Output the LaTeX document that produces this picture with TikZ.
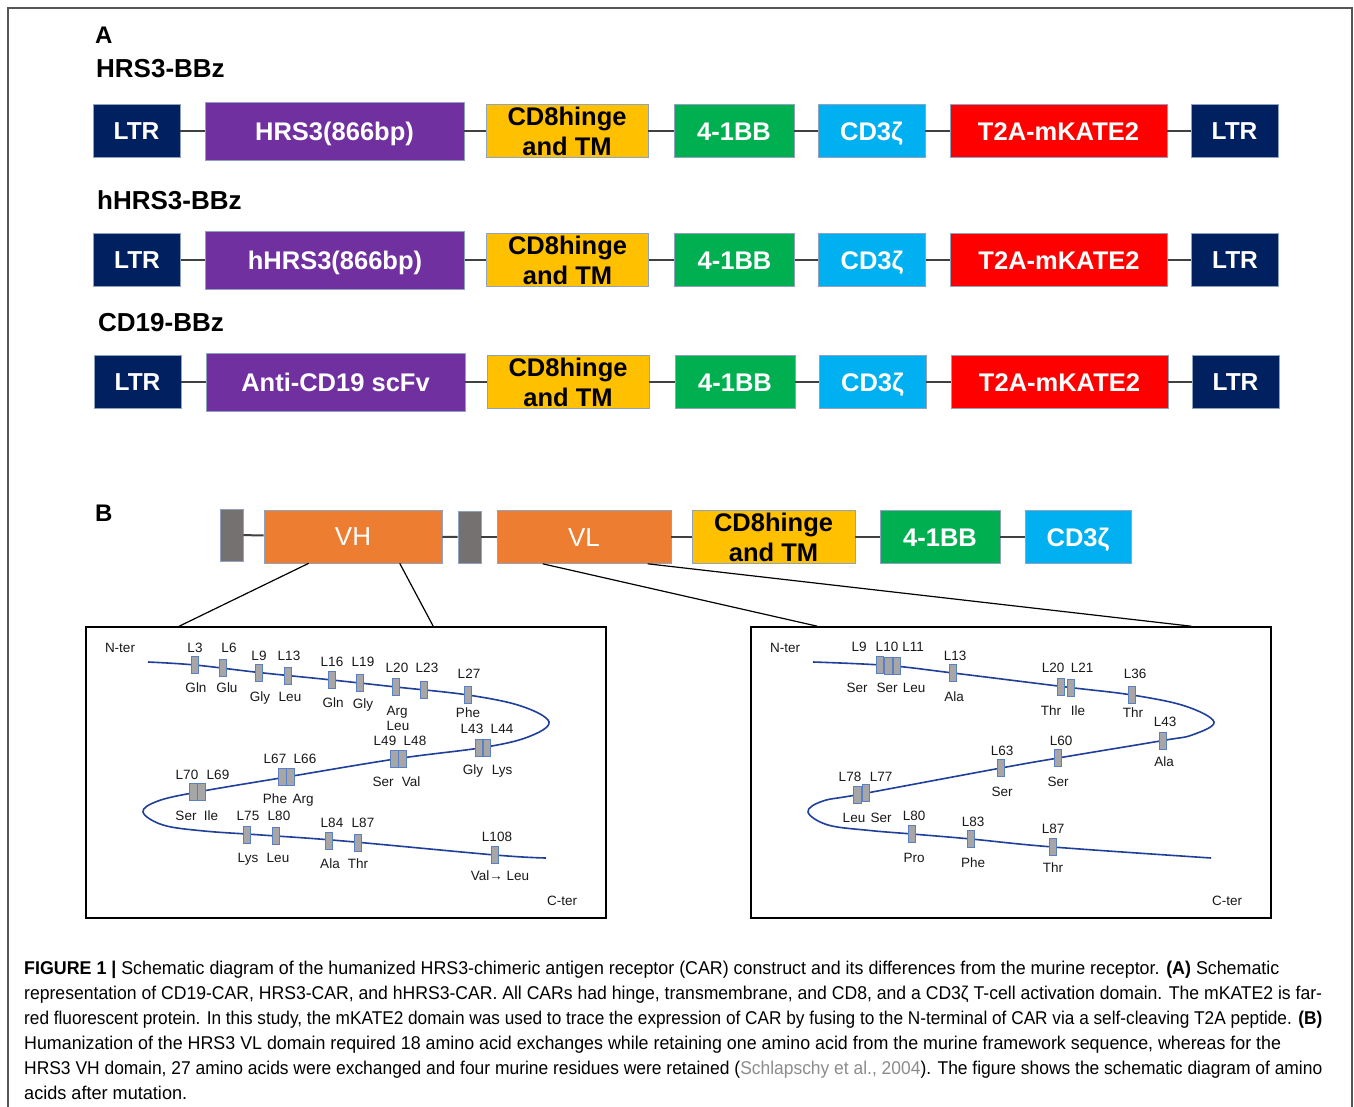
\documentclass[tikz,border=0pt]{standalone}
\usepackage{fontspec}
\usepackage{graphicx}
\setmainfont{Liberation Sans}
\usetikzlibrary{calc}
\definecolor{navy}{HTML}{002060}
\definecolor{cpurple}{HTML}{7030A0}
\definecolor{cyellow}{HTML}{FFC000}
\definecolor{cgreen}{HTML}{00B050}
\definecolor{ccyan}{HTML}{00B0F0}
\definecolor{cred}{HTML}{FF0000}
\definecolor{corange}{HTML}{ED7D31}
\definecolor{cgrayb}{HTML}{767171}
\definecolor{edgec}{HTML}{8FA3C0}
\definecolor{resfill}{HTML}{A6A6A6}
\definecolor{resedge}{HTML}{5B7FC4}
\definecolor{curvec}{HTML}{1F3F99}
\definecolor{citegray}{HTML}{8C8C8C}
\definecolor{framegray}{HTML}{555555}
\definecolor{linkc}{HTML}{404040}

\newcommand\cardrow[4]{%
 \node[ltrbox] (#1a) at (136.5+#3,#2) {LTR};
 \node[scfvbox] (#1b) at (334.5+#3,#2) {#4};
 \node[hingebox, minimum width=162pt] (#1c) at (567+#3,#2) {};
 \node[hingetext] (#1ct) at (567+#3,#2) {CD8hinge\\and TM};
 \node[blk, fill=cgreen, minimum width=120pt] (#1d) at (734+#3,#2) {4-1BB};
 \node[blk, fill=ccyan, minimum width=107pt] (#1e) at (871.5+#3,#2) {CD3ζ};
 \node[blk, fill=cred, minimum width=217pt] (#1f) at (1058.5+#3,#2) {T2A-mKATE2};
 \node[ltrbox] (#1g) at (1234.5+#3,#2) {LTR};
 \draw[linkline] (#1a) -- (#1b);
 \draw[linkline] (#1b) -- (#1c);
 \draw[linkline] (#1c) -- (#1d);
 \draw[linkline] (#1d) -- (#1e);
 \draw[linkline] (#1e) -- (#1f);
 \draw[linkline] (#1f) -- (#1g);
}
\newcommand\rb[3]{\node[res] (#1) at (#2,#3) {};}
\newcommand\tl[4]{\node[lab] (#1) at (#2,#3) {#4};}

\begin{document}
\begin{tikzpicture}[x=1pt,y=-1pt,
 blk/.style={rectangle, inner sep=0pt, draw=edgec, line width=0.6pt, minimum height=53pt, text=white,
   font=\fontsize{25.5}{30}\selectfont\bfseries, text height=18.3pt, text depth=0pt},
 ltrbox/.style={blk, fill=navy, minimum width=87pt, font=\fontsize{24.5}{28}\selectfont\bfseries, text height=17.5pt},
 scfvbox/.style={blk, fill=cpurple, minimum width=259pt, minimum height=58pt},
 hingebox/.style={blk, fill=cyellow},
 hingetext/.style={align=center, inner sep=0pt, text=black, font=\fontsize{25.5}{30}\selectfont\bfseries},
 gbox/.style={rectangle, inner sep=0pt, fill=cgrayb, draw=edgec, line width=0.6pt, minimum width=23pt, minimum height=52pt},
 vbox/.style={blk, fill=corange, font=\fontsize{26}{30}\selectfont, text height=18.6pt},
 linkline/.style={draw=linkc, line width=2pt},
 titletext/.style={anchor=west, inner sep=0pt, font=\fontsize{26}{30}\selectfont\bfseries, text height=18.6pt, text depth=0pt},
 paneltext/.style={anchor=west, inner sep=0pt, font=\fontsize{24}{28}\selectfont\bfseries, text height=17.2pt, text depth=0pt},
 panel/.style={rectangle, draw=black, line width=1.6pt, minimum width=520pt, minimum height=291pt, inner sep=0pt},
 zoomline/.style={draw=black, line width=1.2pt},
 res/.style={rectangle, inner sep=0pt, fill=resfill, draw=resedge, line width=0.7pt, minimum width=7.5pt, minimum height=17pt},
 lab/.style={inner sep=0pt, text=black!90, font=\fontsize{13.5}{14}\selectfont, text height=9.7pt, text depth=0pt},
 curveline/.style={draw=curvec, line width=1.6pt},
 capt/.style={anchor=base west, inner sep=0pt, font=\fontsize{18.5}{22}\selectfont, text=black}
]
\useasboundingbox (0,0) rectangle (1354,1107);
\fill[white] (0,0) rectangle (1354,1107);
\draw[framegray, line width=1.5pt] (8,1115) -- (8,8) -- (1352,8) -- (1352,1115);

% ---------------- Part A
\node[paneltext] (lA) at (95,35) {A};
\node[titletext] (t1) at (96,68) {HRS3-BBz};
\node[titletext] (t2) at (97,200) {hHRS3-BBz};
\node[titletext] (t3) at (98,322) {CD19-BBz};
\cardrow{ra}{131}{0}{HRS3(866bp)}
\cardrow{rb}{260}{0.5}{hHRS3(866bp)}
\cardrow{rc}{382}{1}{Anti-CD19 scFv}

% ---------------- Part B
\node[paneltext] (lB) at (95,513) {B};
\node[gbox] (g1) at (231.5,535) {};
\node[vbox, minimum width=178pt] (vh) at (353,536.5) {VH};
\node[gbox] (g2) at (469.5,537) {};
\node[vbox, minimum width=174pt] (vl) at (584,537) {VL};
\node[hingebox, minimum width=163pt] (bh) at (773.5,537) {};
\node[hingetext] (bht) at (773.5,537) {CD8hinge\\and TM};
\node[blk, fill=cgreen, minimum width=120pt] (bb) at (940,537) {4-1BB};
\node[blk, fill=ccyan, minimum width=106pt] (bz) at (1078,537) {CD3ζ};
\draw[linkline] (g1) -- (vh);
\draw[linkline] (vh) -- (g2);
\draw[linkline] (g2) -- (vl);
\draw[linkline] (vl) -- (bh);
\draw[linkline] (bh) -- (bb);
\draw[linkline] (bb) -- (bz);

\node[panel] (p1) at (346,772.5) {};
\node[panel] (p2) at (1011,772.5) {};
\draw[zoomline] ($(vh.south west)+(45,0)$) -- ($(p1.north west)+(94,0)$);
\draw[zoomline] ($(vh.south west)+(136,0)$) -- ($(p1.north west)+(348,0)$);
\draw[zoomline] ($(vl.south west)+(46,0)$) -- ($(p2.north west)+(67,0)$);
\draw[zoomline] ($(vl.south west)+(151,0)$) -- ($(p2.north west)+(441,0)$);

% ---------------- left panel (VH)
\draw[curveline] plot[smooth, tension=0.6] coordinates {(148,662) (195,665) (259,672.5) (332,680) (396,687) (468,695) (521,706) (549,722) (528,737) (483,747.5) (398.5,758.5) (286.5,777) (197.5,792) (158,801) (143,812) (163,825) (204,831) (261.5,835) (343.5,841) (495,855) (546,858)};
\rb{v3}{195}{665} \rb{v6}{223}{668} \rb{v9}{259}{672.5} \rb{v13}{288}{675.5}
\rb{v16}{332}{680} \rb{v19}{360}{683} \rb{v20}{396}{687} \rb{v23}{424}{690} \rb{v27}{468}{695}
\rb{v43}{479}{747.5} \rb{v44}{487}{747.5} \rb{v49}{394.5}{758.5} \rb{v48}{402.5}{758.5}
\rb{v67}{282.5}{777} \rb{v66}{290.5}{777} \rb{v70}{193.5}{792} \rb{v69}{201.5}{792}
\rb{v75}{247}{834.5} \rb{v80}{276}{836} \rb{v84}{329}{840.5} \rb{v87}{358}{842.5} \rb{v108}{495}{855}
\tl{vn}{120}{648}{N-ter} \tl{vc}{562}{901}{C-ter}
\tl{v3t}{195}{648}{L3} \tl{v6t}{229}{648}{L6} \tl{v9t}{259}{656}{L9} \tl{v13t}{289}{656}{L13}
\tl{v16t}{332}{662}{L16} \tl{v19t}{363}{662}{L19} \tl{v20t}{397}{668}{L20} \tl{v23t}{427}{668}{L23}
\tl{v27t}{469}{674}{L27} \tl{v43t}{472}{729}{L43} \tl{v44t}{502}{729}{L44}
\tl{v49t}{385}{741}{L49} \tl{v48t}{415}{741}{L48} \tl{v67t}{275}{759}{L67} \tl{v66t}{305}{759}{L66}
\tl{v70t}{187}{775}{L70} \tl{v69t}{218}{775}{L69} \tl{v75t}{248}{816}{L75} \tl{v80t}{279}{816}{L80}
\tl{v84t}{332}{823}{L84} \tl{v87t}{363}{823}{L87} \tl{v108t}{497}{837}{L108}
\tl{v3b}{196}{688}{Gln} \tl{v6b}{227}{688}{Glu} \tl{v9b}{260}{697}{Gly} \tl{v13b}{290}{697}{Leu}
\tl{v16b}{333}{703}{Gln} \tl{v19b}{363}{704}{Gly} \tl{v20b}{397}{711}{Arg} \tl{v23b}{398}{726}{Leu}
\tl{v27b}{468}{713}{Phe} \tl{v43b}{473}{770}{Gly} \tl{v44b}{502}{770}{Lys}
\tl{v49b}{383}{782}{Ser} \tl{v48b}{411}{782}{Val} \tl{v67b}{275}{799}{Phe} \tl{v66b}{303}{799}{Arg}
\tl{v70b}{186}{816}{Ser} \tl{v69b}{211}{816}{Ile} \tl{v75b}{248}{858}{Lys} \tl{v80b}{278}{858}{Leu}
\tl{v84b}{330}{864}{Ala} \tl{v87b}{358}{864}{Thr} \tl{v108b}{500}{876}{Val→ Leu}

% ---------------- right panel (VL)
\draw[curveline] plot[smooth, tension=0.6] coordinates {(813,662) (888,665.5) (953,673) (1066,687) (1132,695) (1185,706) (1214,722) (1192,735) (1163,740.5) (1058,758) (1001,768) (861.5,794) (823,801) (808,812) (828,825) (870,830.5) (912,834) (971,839) (1053,847) (1211,858)};
\rb{w9}{880}{665} \rb{w10}{888.5}{665.5} \rb{w11}{897}{666.3} \rb{w13}{953}{673}
\rb{w20}{1061}{686.4} \rb{w21}{1071}{687.6} \rb{w36}{1132}{695} \rb{w43}{1163}{740.5}
\rb{w60}{1058}{758} \rb{w63}{1001}{768} \rb{w78}{857.5}{794.5} \rb{w77}{866}{793}
\rb{w80}{912}{834} \rb{w83}{971}{839} \rb{w87}{1053}{847}
\tl{wn}{785}{648}{N-ter} \tl{wc}{1227}{901}{C-ter}
\tl{w9t}{859}{647}{L9} \tl{w10t}{887}{647}{L10} \tl{w11t}{913}{647}{L11} \tl{w13t}{955}{656}{L13}
\tl{w20t}{1053}{668}{L20} \tl{w21t}{1082}{668}{L21} \tl{w36t}{1135}{674}{L36} \tl{w43t}{1165}{722}{L43}
\tl{w60t}{1061}{741}{L60} \tl{w63t}{1002}{751}{L63} \tl{w78t}{850}{777}{L78} \tl{w77t}{881}{777}{L77}
\tl{w80t}{914}{816}{L80} \tl{w83t}{973}{822}{L83} \tl{w87t}{1053}{829}{L87}
\tl{w9b}{857}{688}{Ser} \tl{w10b}{887}{688}{Ser} \tl{w11b}{914}{688}{Leu} \tl{w13b}{954}{697}{Ala}
\tl{w20b}{1051}{711}{Thr} \tl{w21b}{1078}{711}{Ile} \tl{w36b}{1133}{713}{Thr} \tl{w43b}{1164}{762}{Ala}
\tl{w60b}{1058}{782}{Ser} \tl{w63b}{1002}{792}{Ser} \tl{w78b}{854}{818}{Leu} \tl{w77b}{881}{818}{Ser}
\tl{w80b}{914}{858}{Pro} \tl{w83b}{973}{863}{Phe} \tl{w87b}{1053}{868}{Thr}

% ---------------- caption
\node[capt] (c1) at (24,974) {\resizebox{1255pt}{\height}{\textbf{FIGURE 1 |} Schematic diagram of the humanized HRS3-chimeric antigen receptor (CAR) construct and its differences from the murine receptor. \textbf{(A)} Schematic}};
\node[capt] (c2) at (24,999) {\resizebox{1298pt}{\height}{representation of CD19-CAR, HRS3-CAR, and hHRS3-CAR. All CARs had hinge, transmembrane, and CD8, and a CD3ζ T-cell activation domain. The mKATE2 is far-}};
\node[capt] (c3) at (24,1024) {\resizebox{1298pt}{\height}{red fluorescent protein. In this study, the mKATE2 domain was used to trace the expression of CAR by fusing to the N-terminal of CAR via a self-cleaving T2A peptide. \textbf{(B)}}};
\node[capt] (c4) at (24,1049) {\resizebox{1257pt}{\height}{Humanization of the HRS3 VL domain required 18 amino acid exchanges while retaining one amino acid from the murine framework sequence, whereas for the}};
\node[capt] (c5) at (24,1074) {\resizebox{1298pt}{\height}{HRS3 VH domain, 27 amino acids were exchanged and four murine residues were retained ({\color{citegray}Schlapschy et al., 2004}). The figure shows the schematic diagram of amino}};
\node[capt] (c6) at (24,1099) {\resizebox{163pt}{\height}{acids after mutation.}};
\end{tikzpicture}
\end{document}
